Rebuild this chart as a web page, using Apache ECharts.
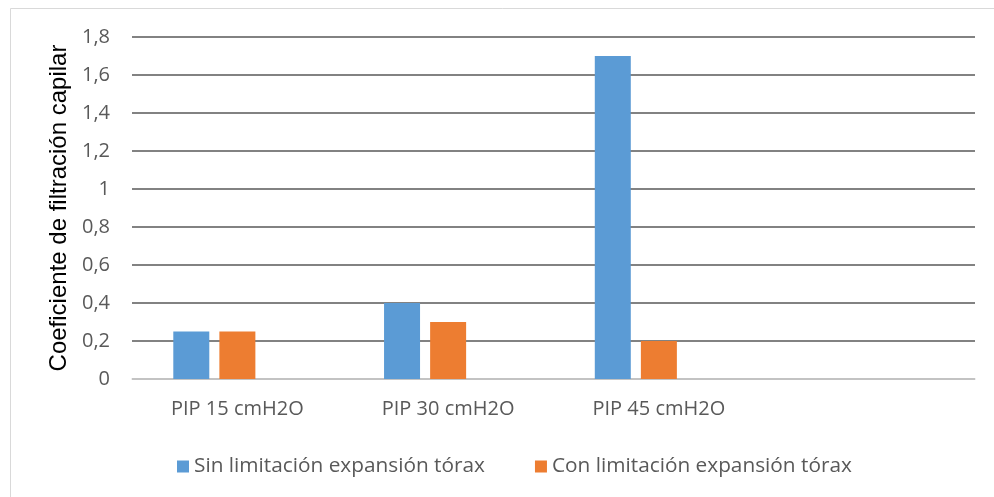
<!DOCTYPE html>
<html>
<head>
<meta charset="utf-8">
<script src="https://cdn.jsdelivr.net/npm/echarts@6/dist/echarts.min.js"></script>
<style>
  html, body { margin: 0; padding: 0; background: #fff; }
  #chart { width: 994px; height: 497px; }
</style>
</head>
<body>
<div id="chart"></div>
<script>
// Capillary filtration coefficient by peak inspiratory pressure
const categories = ['PIP 15 cmH2O', 'PIP 30 cmH2O', 'PIP 45 cmH2O', ''];
const sinLimitacion = [0.25, 0.4, 1.7, null];
const conLimitacion = [0.25, 0.3, 0.2, null];
const tercera = [null, null, null, null];
const yTicks = { min: 0, max: 1.8, interval: 0.2 };

const chart = echarts.init(document.getElementById('chart'), null, { renderer: 'canvas' });

const labelFont = '"Open Sans", Calibri, "Liberation Sans", sans-serif';

chart.setOption({
  animation: false,
  backgroundColor: '#ffffff',
  graphic: [{
    type: 'rect',
    shape: { x: 10.5, y: 8.5, width: 1000, height: 1000 },
    style: { fill: 'none', stroke: '#d9d9d9', lineWidth: 1 },
    silent: true,
    z: -1
  }],
  grid: { left: 132, right: 19, top: 37, bottom: 118, containLabel: false },
  legend: {
    data: ['Sin limitación expansión tórax', 'Con limitación expansión tórax'],
    left: 172,
    top: 451,
    itemWidth: 12,
    itemHeight: 12,
    itemGap: 50,
    icon: 'rect',
    textStyle: { color: '#595959', fontSize: 20.8, fontFamily: labelFont }
  },
  xAxis: {
    type: 'category',
    data: categories,
    axisLine: { show: true, lineStyle: { color: '#d9d9d9', width: 1.5 } },
    axisTick: { show: false },
    axisLabel: { color: '#595959', fontSize: 20, fontFamily: labelFont, margin: 20 },
    splitLine: { show: false }
  },
  yAxis: {
    type: 'value',
    min: yTicks.min,
    max: yTicks.max,
    interval: yTicks.interval,
    name: 'Coeficiente de filtración capilar',
    nameLocation: 'middle',
    nameGap: 60,
    nameTextStyle: { color: '#000', fontSize: 24, fontFamily: '"Liberation Sans", Arial, sans-serif' },
    axisLine: { show: false },
    axisTick: { show: false },
    axisLabel: {
      color: '#595959', fontSize: 20, fontFamily: labelFont, margin: 22,
      formatter: v => (Math.round(v * 10) / 10).toString().replace('.', ',')
    },
    splitLine: { lineStyle: { color: '#595959', width: 1.5 } }
  },
  series: [
    {
      name: 'Sin limitación expansión tórax',
      type: 'bar',
      data: sinLimitacion,
      barWidth: 36,
      barGap: '28%',
      itemStyle: { color: '#5b9bd5' }
    },
    {
      name: 'Con limitación expansión tórax',
      type: 'bar',
      data: conLimitacion,
      barWidth: 36,
      barGap: '28%',
      itemStyle: { color: '#ed7d31' }
    },
    {
      name: '',
      type: 'bar',
      data: tercera,
      barWidth: 36,
      barGap: '28%',
      itemStyle: { color: '#a5a5a5' }
    }
  ]
});
</script>
</body>
</html>
